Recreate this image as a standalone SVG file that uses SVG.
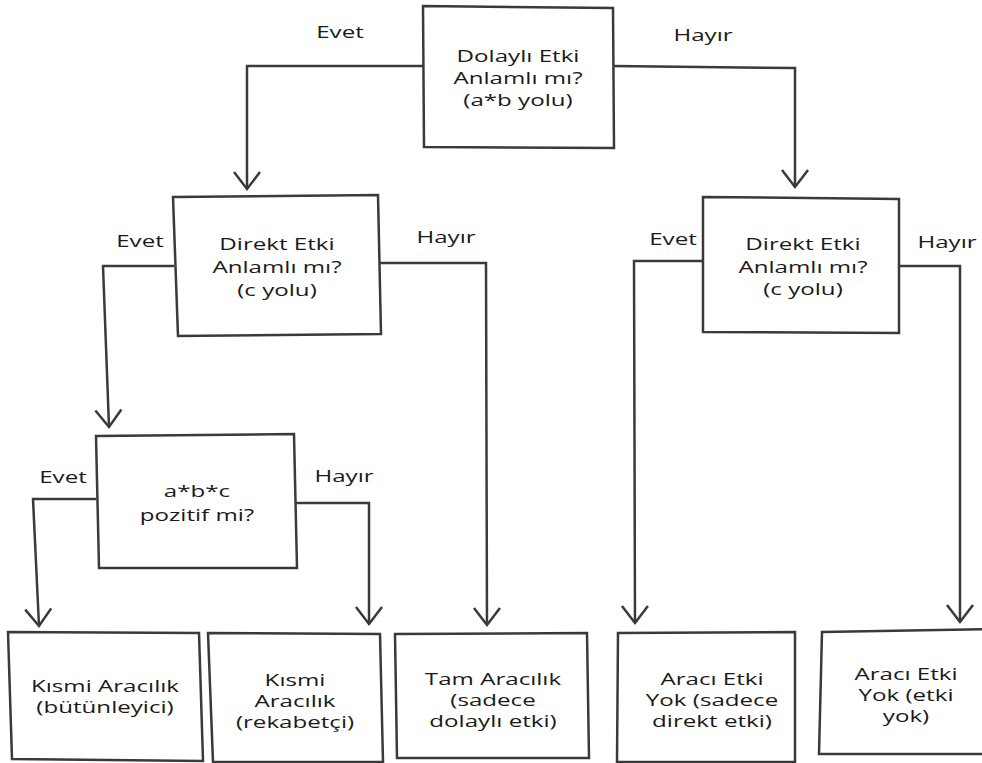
<svg xmlns="http://www.w3.org/2000/svg" width="982" height="763" viewBox="0 0 982 763">
<style>
.box{fill:#fff;stroke:#3a3a3a;stroke-width:2.5;stroke-linejoin:miter}
.con{fill:none;stroke:#3a3a3a;stroke-width:2.5;marker-end:url(#arr)}
text{font-family:"Open Sans","DejaVu Sans",sans-serif;font-size:17px;font-weight:500;fill:#1a1a1a;text-anchor:middle}
</style>
<defs>
<marker id="arr" viewBox="-20 -16 23 32" markerWidth="23" markerHeight="32" refX="0" refY="0" orient="auto" markerUnits="userSpaceOnUse">
<path d="M-17,-13 L0,0 L-17,13" fill="none" stroke="#3a3a3a" stroke-width="2.5"/>
</marker>
</defs>
<rect width="982" height="763" fill="#fff"/>
<g id="connectors">
<path class="con" d="M423 66 L247 66 L247 189"/>
<path class="con" d="M613 66 L795 68 L795 187"/>
<path class="con" d="M174 266 L103 266 L109 427"/>
<path class="con" d="M380 263 L486 263 L487 625"/>
<path class="con" d="M703 261 L634 261 L635 623"/>
<path class="con" d="M900 266 L960 266 L960 622"/>
<path class="con" d="M96 499 L33 499 L39 626"/>
<path class="con" d="M296 503 L369 503 L369 624"/>
<text transform="translate(340 38) scale(1.42 1)">Evet</text>
<text transform="translate(703 41) scale(1.42 1)">Hayır</text>
<text transform="translate(140 247) scale(1.42 1)">Evet</text>
<text transform="translate(446 243) scale(1.42 1)">Hayır</text>
<text transform="translate(673 245) scale(1.42 1)">Evet</text>
<text transform="translate(947 248) scale(1.42 1)">Hayır</text>
<text transform="translate(63 483) scale(1.42 1)">Evet</text>
<text transform="translate(344 482) scale(1.42 1)">Hayır</text>
</g>
<g id="n-dolayli">
<polygon class="box" points="423,6 613,8 614,148 424,147"/>
<text transform="translate(518 62) scale(1.42 1)">Dolaylı Etki</text>
<text transform="translate(518 84) scale(1.42 1)">Anlamlı mı?</text>
<text transform="translate(518 106) scale(1.42 1)">(a*b yolu)</text>
</g>
<g id="n-direkt-sol">
<polygon class="box" points="173,197 378,195 381,334 178,336"/>
<text transform="translate(277 250) scale(1.42 1)">Direkt Etki</text>
<text transform="translate(277 273) scale(1.42 1)">Anlamlı mı?</text>
<text transform="translate(277 296) scale(1.42 1)">(c yolu)</text>
</g>
<g id="n-direkt-sag">
<polygon class="box" points="703,197 899,199 899,333 703,332"/>
<text transform="translate(803 250) scale(1.42 1)">Direkt Etki</text>
<text transform="translate(803 273) scale(1.42 1)">Anlamlı mı?</text>
<text transform="translate(803 295) scale(1.42 1)">(c yolu)</text>
</g>
<g id="n-abc">
<polygon class="box" points="96,436 294,434 297,568 99,568"/>
<text transform="translate(197 497) scale(1.42 1)">a*b*c</text>
<text transform="translate(197 521) scale(1.42 1)">pozitif mi?</text>
</g>
<g id="n-butunleyici">
<polygon class="box" points="8,632 199,633 203,761 12,759"/>
<text transform="translate(105 692) scale(1.42 1)">Kısmi Aracılık</text>
<text transform="translate(105 713) scale(1.42 1)">(bütünleyici)</text>
</g>
<g id="n-rekabetci">
<polygon class="box" points="208,633 380,634 383,762 213,762"/>
<text transform="translate(295 686) scale(1.42 1)">Kısmi</text>
<text transform="translate(295 707) scale(1.42 1)">Aracılık</text>
<text transform="translate(295 728) scale(1.42 1)">(rekabetçi)</text>
</g>
<g id="n-tam">
<polygon class="box" points="395,634 587,633 589,758 397,758"/>
<text transform="translate(493 685) scale(1.42 1)">Tam Aracılık</text>
<text transform="translate(493 706) scale(1.42 1)">(sadece</text>
<text transform="translate(493 727) scale(1.42 1)">dolaylı etki)</text>
</g>
<g id="n-direkt-etki">
<polygon class="box" points="618,633 795,632 795,762 617,762"/>
<text transform="translate(712 685) scale(1.42 1)">Aracı Etki</text>
<text transform="translate(712 706) scale(1.42 1)">Yok (sadece</text>
<text transform="translate(712 727) scale(1.42 1)">direkt etki)</text>
</g>
<g id="n-etki-yok">
<polygon class="box" points="822,632 990,629 990,754 819,754"/>
<text transform="translate(906 680) scale(1.42 1)">Aracı Etki</text>
<text transform="translate(906 701) scale(1.42 1)">Yok (etki</text>
<text transform="translate(906 722) scale(1.42 1)">yok)</text>
</g>
</svg>
